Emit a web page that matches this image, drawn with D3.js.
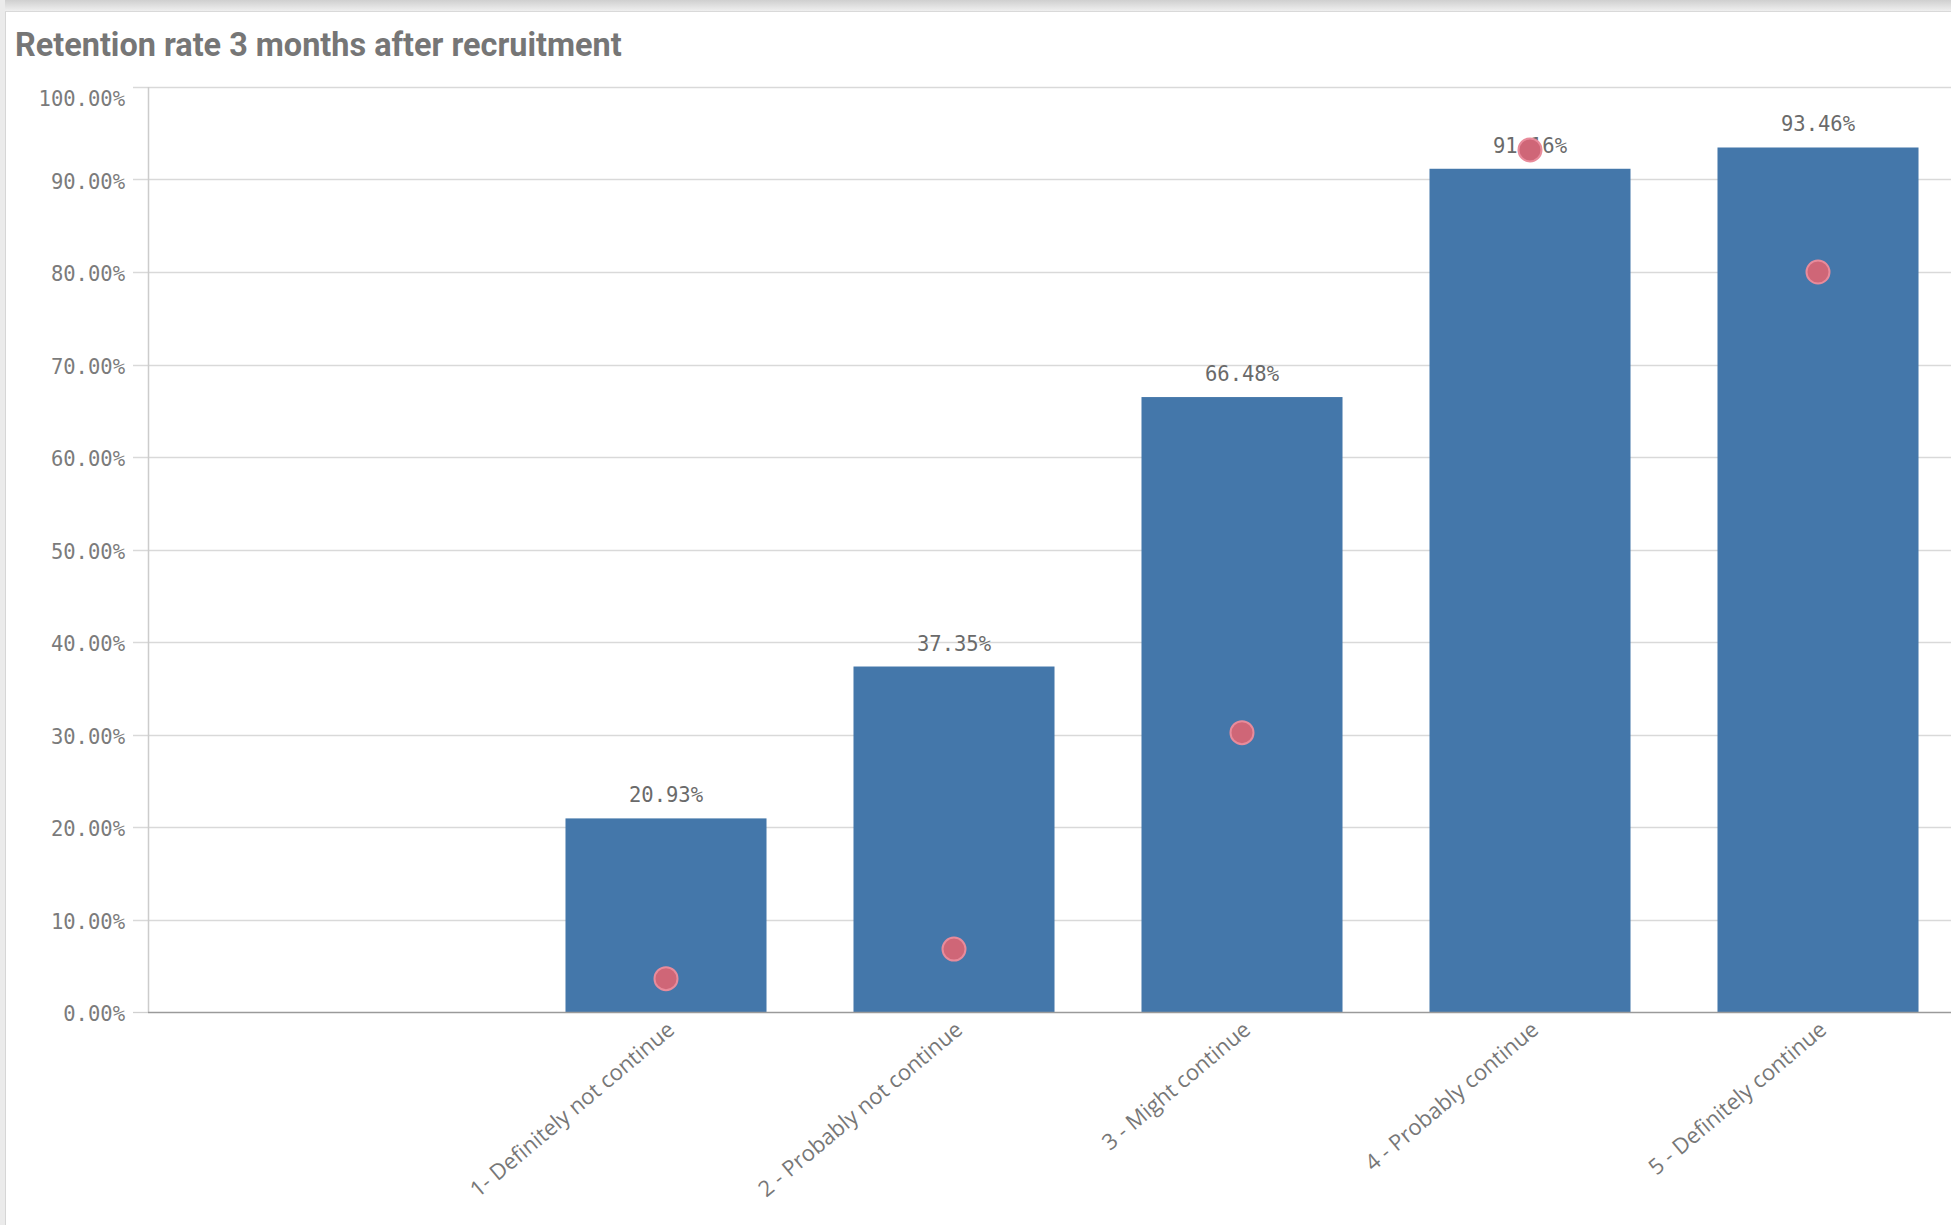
<!DOCTYPE html>
<html>
<head>
<meta charset="utf-8">
<script src="https://cdn.jsdelivr.net/npm/d3@7"></script>
<style>
  html, body { margin: 0; padding: 0; background: #ffffff; }
  svg { display: block; }
</style>
</head>
<body>
<svg id="chart" width="1951" height="1225"></svg>
<script>
// Survey answer categories (x axis)
const categories = [
  "1- Definitely not continue",
  "2 - Probably not continue",
  "3 - Might continue",
  "4 - Probably continue",
  "5 - Definitely continue"
];
// Retention rate 3 months after recruitment (bars)
const retention = [0.2093, 0.3735, 0.6648, 0.9116, 0.9346];
// Secondary measure shown as markers
const markerValues = [0.036, 0.068, 0.302, 0.932, 0.800];
// Y axis ticks
const yTicks = [0, 0.1, 0.2, 0.3, 0.4, 0.5, 0.6, 0.7, 0.8, 0.9, 1.0];

const titleText = "Retention rate 3 months after recruitment";

const W = 1951, H = 1225;
const svg = d3.select("#chart");

// Card frame: soft shadow along the top and a light strip on the left
const defs = svg.append("defs");
const grad = defs.append("linearGradient").attr("id", "topShade")
  .attr("x1", 0).attr("y1", 0).attr("x2", 0).attr("y2", 1);
grad.append("stop").attr("offset", "0%").attr("stop-color", "#cfcfcf");
grad.append("stop").attr("offset", "100%").attr("stop-color", "#efefef");

svg.append("rect").attr("x", 0).attr("y", 0).attr("width", W).attr("height", H).attr("fill", "#ffffff");
svg.append("rect").attr("x", 0).attr("y", 0).attr("width", W).attr("height", 11).attr("fill", "url(#topShade)");
svg.append("rect").attr("x", 0).attr("y", 0).attr("width", 5).attr("height", H).attr("fill", "#ebebeb");
svg.append("line").attr("x1", 5.5).attr("x2", 5.5).attr("y1", 11).attr("y2", H)
  .attr("stroke", "#d6d6d6").attr("stroke-width", 1);
svg.append("line").attr("x1", 5).attr("x2", W).attr("y1", 11.5).attr("y2", 11.5)
  .attr("stroke", "#d9d9d9").attr("stroke-width", 1);

// Title, sized to span its full width
const title = svg.append("text")
  .attr("x", 15).attr("y", 56)
  .attr("font-family", "Roboto, 'Open Sans', sans-serif")
  .attr("font-weight", 700)
  .attr("font-size", 30)
  .attr("fill", "#767676")
  .text(titleText);
const tLen = title.node().getComputedTextLength();
title.attr("font-size", 30 * 607 / tLen);

// Scales
const plotLeft = 148, plotBottom = 1012, plotTop = 87;
const y = d3.scaleLinear().domain([0, 1]).range([plotBottom, plotTop]);
const x = d3.scaleBand().domain(categories).range([522, 1962])
  .paddingInner(0.302).paddingOuter(0.151);

// Gridlines with short tick stubs left of the axis
svg.append("g").selectAll("line").data(yTicks.slice(1)).join("line")
  .attr("x1", 133).attr("x2", W)
  .attr("y1", d => Math.round(y(d)) + 0.5).attr("y2", d => Math.round(y(d)) + 0.5)
  .attr("stroke", "#d9d9d9").attr("stroke-width", 1.3);
svg.append("line").attr("x1", 133).attr("x2", plotLeft)
  .attr("y1", Math.round(y(0)) + 0.5).attr("y2", Math.round(y(0)) + 0.5)
  .attr("stroke", "#d0d0d0").attr("stroke-width", 1.3);

// Y axis line
svg.append("line").attr("x1", plotLeft + 0.5).attr("x2", plotLeft + 0.5)
  .attr("y1", plotTop).attr("y2", plotBottom)
  .attr("stroke", "#cccccc").attr("stroke-width", 1.5);

// Y tick labels; the topmost one is nudged down to stay inside the plot
const fmt = d3.format(".2%");
svg.append("g").selectAll("text").data(yTicks).join("text")
  .attr("x", 125).attr("y", d => d === 1 ? y(d) + 12 : y(d) + 2)
  .attr("dy", "0.36em")
  .attr("text-anchor", "end")
  .attr("font-family", "'DejaVu Sans Mono', 'Liberation Mono', monospace")
  .attr("font-size", 20.5)
  .attr("fill", "#7b7b7b")
  .text(d => fmt(d));

// Bars
svg.append("g").selectAll("rect").data(retention).join("rect")
  .attr("x", (d, i) => x(categories[i]))
  .attr("width", x.bandwidth())
  .attr("y", d => y(d))
  .attr("height", d => y(0) - y(d))
  .attr("fill", "#4477aa");

// X axis baseline
svg.append("line").attr("x1", plotLeft).attr("x2", W)
  .attr("y1", plotBottom + 0.5).attr("y2", plotBottom + 0.5)
  .attr("stroke", "#9a9a9a").attr("stroke-width", 1.6);

// Value labels above bars
svg.append("g").selectAll("text").data(retention).join("text")
  .attr("x", (d, i) => x(categories[i]) + x.bandwidth() / 2)
  .attr("y", d => y(d) - 16)
  .attr("text-anchor", "middle")
  .attr("font-family", "'DejaVu Sans Mono', 'Liberation Mono', monospace")
  .attr("font-size", 20.5)
  .attr("fill", "#6a6a6a")
  .text(d => fmt(d));

// Markers
svg.append("g").selectAll("circle").data(markerValues).join("circle")
  .attr("cx", (d, i) => x(categories[i]) + x.bandwidth() / 2)
  .attr("cy", d => y(d))
  .attr("r", 11.5)
  .attr("fill", "#cf6677")
  .attr("stroke", "#e88b9b")
  .attr("stroke-width", 2);

// Rotated category labels
svg.append("g").selectAll("text").data(categories).join("text")
  .attr("transform", d => `translate(${x(d) + x.bandwidth() / 2 + 10},${plotBottom + 20}) rotate(-40)`)
  .attr("text-anchor", "end")
  .attr("font-family", "'Open Sans', 'Noto Sans', sans-serif")
  .attr("font-size", 22)
  .attr("fill", "#777777")
  .text(d => d);
</script>
</body>
</html>
